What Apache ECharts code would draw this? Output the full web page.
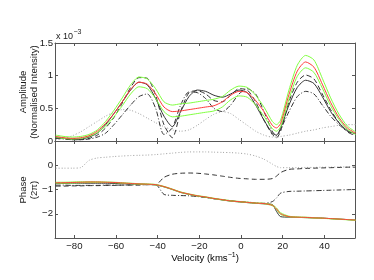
<!DOCTYPE html>
<html><head><meta charset="utf-8">
<script src="https://cdn.jsdelivr.net/npm/echarts@6/dist/echarts.min.js"></script>
<style>html,body{margin:0;padding:0;background:#fff}#c{width:374px;height:280px}</style>
</head><body><div id="c"></div>
<script>
// Velocity grid (km/s)
const vel = [-89,-85,-81,-77,-73,-69,-65,-61,-57,-53,-49,-45,-41,-37,-33,-29,-25,-21,-17,-13,-9,-5,-1,3,7,11,15,17,19,23,27,31,35,39,43,47,51,55];
const xTicks = [-80,-60,-40,-20,0,20,40];
const ampTicks = [0,0.5,1,1.5];
const phaseTicks = [-2,-1,0];

// Amplitude (x 1e-3)
const ampGreenUpper = [0.09,0.07,0.06,0.07,0.10,0.17,0.30,0.47,0.66,0.86,0.98,0.95,0.80,0.60,0.55,0.57,0.58,0.60,0.62,0.64,0.68,0.78,0.84,0.82,0.70,0.52,0.30,0.25,0.32,0.78,1.16,1.31,1.24,0.96,0.66,0.41,0.23,0.14];
const ampRed        = [0.07,0.05,0.04,0.05,0.08,0.15,0.27,0.42,0.60,0.79,0.90,0.87,0.72,0.52,0.45,0.46,0.48,0.50,0.52,0.54,0.60,0.70,0.76,0.74,0.62,0.45,0.24,0.20,0.27,0.71,1.07,1.21,1.13,0.87,0.59,0.36,0.20,0.12];
const ampGreenLower = [0.06,0.04,0.03,0.04,0.07,0.13,0.23,0.37,0.54,0.72,0.83,0.80,0.65,0.45,0.37,0.38,0.40,0.42,0.44,0.46,0.52,0.63,0.69,0.67,0.55,0.38,0.19,0.15,0.22,0.64,0.99,1.12,1.05,0.81,0.54,0.33,0.18,0.10];
const ampBlack      = [0.05,0.04,0.03,0.03,0.06,0.12,0.25,0.42,0.60,0.78,0.90,0.86,0.65,0.38,0.22,0.45,0.68,0.78,0.76,0.70,0.67,0.72,0.78,0.74,0.55,0.32,0.12,0.09,0.20,0.55,0.82,0.93,0.88,0.68,0.45,0.28,0.16,0.11];
const ampDashed     = [0.06,0.04,0.02,0.02,0.04,0.09,0.20,0.36,0.58,0.82,0.97,0.96,0.70,0.25,0.05,0.45,0.74,0.77,0.72,0.62,0.60,0.70,0.80,0.78,0.60,0.32,0.10,0.05,0.15,0.60,0.90,1.01,0.95,0.72,0.48,0.28,0.14,0.08];
const ampDashDot    = [0.04,0.03,0.02,0.02,0.03,0.06,0.12,0.25,0.40,0.55,0.68,0.72,0.50,0.10,0.20,0.55,0.75,0.74,0.65,0.50,0.45,0.55,0.72,0.80,0.72,0.45,0.15,0.08,0.18,0.45,0.68,0.76,0.72,0.55,0.38,0.25,0.15,0.10];
const ampDotted     = [0.02,0.04,0.08,0.14,0.22,0.30,0.38,0.44,0.48,0.47,0.42,0.35,0.28,0.22,0.17,0.15,0.17,0.24,0.33,0.41,0.45,0.42,0.33,0.24,0.15,0.09,0.06,0.06,0.07,0.09,0.12,0.15,0.17,0.20,0.22,0.24,0.25,0.25];

// Phase (2 pi)
const phGreenUpper = [-0.70,-0.70,-0.69,-0.68,-0.68,-0.68,-0.69,-0.70,-0.72,-0.74,-0.76,-0.77,-0.79,-0.87,-0.98,-1.10,-1.18,-1.25,-1.30,-1.36,-1.41,-1.46,-1.49,-1.52,-1.55,-1.57,-1.63,-1.76,-1.96,-2.10,-2.13,-2.14,-2.16,-2.18,-2.20,-2.22,-2.24,-2.26];
const phRed        = [-0.72,-0.72,-0.71,-0.70,-0.69,-0.69,-0.70,-0.71,-0.73,-0.75,-0.77,-0.78,-0.80,-0.88,-0.99,-1.11,-1.19,-1.26,-1.31,-1.37,-1.42,-1.47,-1.50,-1.53,-1.56,-1.58,-1.65,-1.80,-2.00,-2.12,-2.14,-2.15,-2.17,-2.18,-2.20,-2.22,-2.24,-2.26];
const phGreenLower = [-0.74,-0.74,-0.73,-0.72,-0.71,-0.71,-0.71,-0.72,-0.74,-0.76,-0.78,-0.79,-0.81,-0.89,-1.00,-1.12,-1.20,-1.27,-1.32,-1.38,-1.43,-1.48,-1.51,-1.54,-1.57,-1.59,-1.67,-1.83,-2.03,-2.13,-2.15,-2.16,-2.18,-2.19,-2.21,-2.23,-2.25,-2.27];
const phBlack      = [-0.75,-0.75,-0.74,-0.74,-0.74,-0.74,-0.74,-0.75,-0.76,-0.77,-0.78,-0.79,-0.81,-0.89,-1.00,-1.12,-1.20,-1.27,-1.32,-1.38,-1.43,-1.48,-1.51,-1.54,-1.57,-1.59,-1.62,-1.90,-2.12,-2.14,-2.15,-2.16,-2.17,-2.18,-2.20,-2.22,-2.24,-2.26];
const phDashed     = [-0.86,-0.86,-0.85,-0.85,-0.84,-0.84,-0.83,-0.83,-0.82,-0.82,-0.81,-0.80,-0.80,-0.50,-0.37,-0.33,-0.32,-0.33,-0.36,-0.40,-0.45,-0.50,-0.54,-0.56,-0.58,-0.58,-0.55,-0.45,-0.30,-0.17,-0.15,-0.13,-0.12,-0.11,-0.10,-0.09,-0.08,-0.08];
const phDashDot    = [-0.82,-0.82,-0.83,-0.83,-0.83,-0.83,-0.82,-0.82,-0.82,-0.81,-0.81,-0.80,-0.80,-1.20,-1.24,-1.25,-1.26,-1.29,-1.33,-1.38,-1.42,-1.46,-1.50,-1.52,-1.55,-1.57,-1.50,-1.35,-1.15,-1.08,-1.07,-1.06,-1.05,-1.04,-1.03,-1.02,-1.01,-1.00];
const phDotted     = [-0.12,-0.12,-0.12,-0.10,0.20,0.30,0.33,0.36,0.38,0.40,0.41,0.42,0.44,0.47,0.50,0.53,0.55,0.55,0.55,0.54,0.53,0.52,0.50,0.46,0.38,0.25,0.05,-0.05,-0.10,-0.10,-0.10,-0.09,-0.09,-0.08,-0.08,-0.07,-0.07,-0.07];

const FONT = '"Liberation Sans", Arial, Helvetica, sans-serif';
const TXT = '#1a1a1a';
const AX = '#555';
const FS = 9.6;
const minus = v => String(v).replace('-', '\u2212');

function xAxis(grid, pos, labels) {
  return {
    type: 'value', gridIndex: grid, position: pos, min: -89.3, max: 54.7,
    axisLine: { show: true, onZero: false, lineStyle: { color: AX, width: 1 } },
    axisTick: { show: true, inside: true, length: 3, customValues: xTicks, lineStyle: { color: AX } },
    axisLabel: { show: labels, customValues: xTicks, formatter: minus, fontSize: FS, fontFamily: FONT, color: TXT, margin: 3 },
    splitLine: { show: false }
  };
}
function yAxis(grid, pos, labels, min, max, ticks) {
  return {
    type: 'value', gridIndex: grid, position: pos, min: min, max: max,
    axisLine: { show: true, onZero: false, lineStyle: { color: AX, width: 1 } },
    axisTick: { show: true, inside: true, length: 3, customValues: ticks, lineStyle: { color: AX } },
    axisLabel: { show: labels, customValues: ticks, formatter: minus, fontSize: FS, fontFamily: FONT, color: TXT, margin: 2 },
    splitLine: { show: false }
  };
}
const pairs = arr => vel.map((v, i) => [v, arr[i]]);
function line(name, arr, xi, yi, color, type, z) {
  return {
    name, type: 'line', xAxisIndex: xi, yAxisIndex: yi, data: pairs(arr),
    showSymbol: false, symbol: 'none', smooth: 0.25, z: z,
    lineStyle: { color: color, width: 1, type: type }, animation: false
  };
}
const GREEN = '#80ff40', RED = '#ff3b3b', BLACK = '#333333', DOT = '#a0a0a0';
const DASH = [5, 3], DASHDOT = [5, 2, 1, 2], DOTS = [1, 2];

const chart = echarts.init(document.getElementById('c'), null, { renderer: 'canvas' });
chart.setOption({
  animation: false,
  backgroundColor: '#fff',
  grid: [
    { left: 55, top: 43, width: 300, height: 98 },
    { left: 55, top: 141, width: 300, height: 97 }
  ],
  xAxis: [xAxis(0, 'bottom', false), xAxis(0, 'top', false), xAxis(1, 'bottom', true), xAxis(1, 'top', false)],
  yAxis: [yAxis(0, 'left', true, 0, 1.5, ampTicks), yAxis(0, 'right', false, 0, 1.5, ampTicks),
          yAxis(1, 'left', true, -3, 1, phaseTicks), yAxis(1, 'right', false, -3, 1, phaseTicks)],
  series: [
    line('aDot', ampDotted, 0, 0, DOT, DOTS, 1),
    line('aDD', ampDashDot, 0, 0, BLACK, DASHDOT, 2),
    line('aDash', ampDashed, 0, 0, BLACK, DASH, 3),
    line('aK', ampBlack, 0, 0, BLACK, 'solid', 4),
    line('aGU', ampGreenUpper, 0, 0, GREEN, 'solid', 5),
    line('aGL', ampGreenLower, 0, 0, GREEN, 'solid', 5),
    line('aR', ampRed, 0, 0, RED, 'solid', 6),
    line('pDot', phDotted, 2, 2, DOT, DOTS, 1),
    line('pDD', phDashDot, 2, 2, BLACK, DASHDOT, 2),
    line('pDash', phDashed, 2, 2, BLACK, DASH, 3),
    line('pK', phBlack, 2, 2, BLACK, 'solid', 4),
    line('pGU', phGreenUpper, 2, 2, GREEN, 'solid', 5),
    line('pGL', phGreenLower, 2, 2, GREEN, 'solid', 5),
    line('pR', phRed, 2, 2, RED, 'solid', 6)
  ],
  graphic: [
    { type: 'text', left: 56, top: 32, style: { text: 'x 10', fontSize: 9, fontFamily: FONT, fill: TXT } },
    { type: 'text', left: 73.5, top: 28.5, style: { text: '\u22123', fontSize: 7, fontFamily: FONT, fill: TXT } },
    { type: 'text', x: 23, y: 92, rotation: Math.PI / 2, style: { text: 'Amplitude', fontSize: FS, fontFamily: FONT, fill: TXT, align: 'center', verticalAlign: 'middle' } },
    { type: 'text', x: 34, y: 92, rotation: Math.PI / 2, style: { text: '(Normalised Intensity)', fontSize: FS, fontFamily: FONT, fill: TXT, align: 'center', verticalAlign: 'middle' } },
    { type: 'text', x: 23, y: 190, rotation: Math.PI / 2, style: { text: 'Phase', fontSize: FS, fontFamily: FONT, fill: TXT, align: 'center', verticalAlign: 'middle' } },
    { type: 'text', x: 34.5, y: 190, rotation: Math.PI / 2, style: { text: '(2\u03c0)', fontSize: FS, fontFamily: FONT, fill: TXT, align: 'center', verticalAlign: 'middle' } },
    { type: 'text', x: 205, y: 258, style: {
        text: '{a|Velocity (kms}{s|\u22121}{a|)}', align: 'center', verticalAlign: 'middle',
        rich: { a: { fontSize: FS, fontFamily: FONT, color: TXT, lineHeight: 12 },
                s: { fontSize: 7, fontFamily: FONT, color: TXT, verticalAlign: 'top', lineHeight: 8 } } } }
  ]
});
</script></body></html>
